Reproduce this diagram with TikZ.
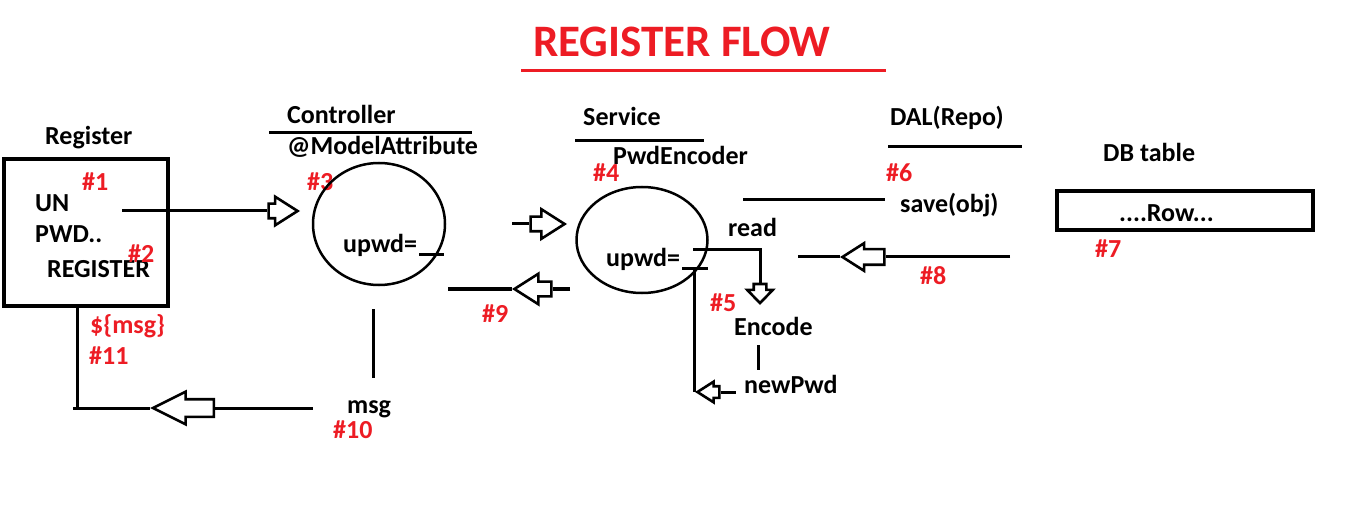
\documentclass[tikz,border=0pt]{standalone}
\usepackage{fontspec}
\setmainfont{Carlito}
\usetikzlibrary{positioning, shapes.geometric, shapes.arrows}
\definecolor{paintRed}{HTML}{ED1C24}

\begin{document}
\begin{tikzpicture}[
    x=1pt, y=-1pt,
    every node/.style={inner sep=0pt, anchor=base west},
    lbl/.style={font=\fontsize{26}{29}\selectfont\bfseries},
    tag/.style={lbl, text=paintRed},
    wire/.style={line width=3pt},
    bubble/.style={ellipse, draw, line width=2.5pt, anchor=center},
    frame/.style={draw, line width=3.2pt, anchor=center},
    hollow/.style={single arrow, draw, fill=white, line width=2.6pt, anchor=tip,
        inner sep=6pt, single arrow head extend=7pt, single arrow tip angle=65,
        minimum height=#1}
]
    \useasboundingbox (0,0) rectangle (1366,513);

    % title
    \node[font=\fontsize{45}{49}\selectfont\bfseries, text=paintRed] (title) at (533,57) {REGISTER FLOW};
    \draw[paintRed, line width=3pt] (521,71) -- (886,71);

    % register page
    \node[lbl] (regHead) at (45,145) {Register};
    \node[frame, minimum width=164, minimum height=147] (regBox) at (86,232.5) {};
    \node[lbl] (un) at (35,212) {UN};
    \node[lbl] (pwd) at (35,243) {PWD..};
    \node[lbl] (regBtn) at (47,277) {REGISTER};
    \node[tag] (t1) at (82,191) {\#1};
    \node[tag] (t2) at (128,262) {\#2};
    \node[tag] (msgEl) at (90,333) {\$\{msg\}};
    \node[tag] (t11) at (89,364) {\#11};

    % controller
    \node[lbl] (ctrlHead) at (287,124) {Controller};
    \node[lbl] (modelAttr) at (287,155) {@ModelAttribute};
    \node[tag] (t3) at (307,191) {\#3};
    \node[bubble, minimum width=132, minimum height=122] (ctrl) at (379,224) {};
    \node[lbl] (ctrlUpwd) at (343,253) {upwd=};
    \node[lbl] (msg) at (347,413) {msg};
    \node[tag] (t10) at (333,438) {\#10};
    \node[tag] (t9) at (482,322) {\#9};

    % service
    \node[lbl] (svcHead) at (583,126) {Service};
    \node[lbl] (encHead) at (613,165) {PwdEncoder};
    \node[tag] (t4) at (593,182) {\#4};
    \node[bubble, minimum width=131, minimum height=106] (svc) at (642,240) {};
    \node[lbl] (svcUpwd) at (606,266) {upwd=};
    \node[lbl] (read) at (728,237) {read};
    \node[tag] (t5) at (710,312) {\#5};
    \node[lbl] (encode) at (734,335) {Encode};
    \node[lbl] (newPwd) at (744,393) {newPwd};

    % repository and table
    \node[lbl] (dalHead) at (890,126) {DAL(Repo)};
    \node[tag] (t6) at (886,182) {\#6};
    \node[lbl] (save) at (900,213) {save(obj)};
    \node[tag] (t8) at (920,284) {\#8};
    \node[lbl] (dbHead) at (1103,162) {DB table};
    \node[frame, minimum width=256, minimum height=39] (dbBox) at (1185,210.5) {};
    \node[lbl] (row) at (1119,222) {....Row...};
    \node[tag] (t7) at (1095,258) {\#7};

    % hollow arrows, placed by their tips
    \node[hollow=29] (a1) at (300,211) {};
    \node[hollow=34, single arrow head extend=7.5pt] (a2) at (567,224) {};
    \node[hollow=37, shape border rotate=180, single arrow head extend=8pt] (a3) at (512,289) {};
    \node[hollow=19, shape border rotate=270, inner sep=5pt, single arrow head extend=6.5pt,
          single arrow tip angle=88] (a4) at (760,305) {};
    \node[hollow=22, shape border rotate=180, inner sep=4.5pt, single arrow head extend=4.5pt] (a5) at (695,392) {};
    \node[hollow=42, shape border rotate=180, inner sep=6.5pt, single arrow head extend=6pt] (a6) at (840,257) {};
    \node[hollow=61, shape border rotate=180, inner sep=7.5pt, single arrow head extend=7.5pt,
          single arrow tip angle=53] (a7) at (150,408) {};

    \coordinate (unOut) at (122,211);
    \coordinate (ctrlOut) at (512,224);
    \coordinate (ctrlIn) at (448,289);
    \coordinate (svcOut) at (570,289);
    \coordinate (readIn) at (693,250);
    \coordinate (readTurn) at (760,250);
    \coordinate (encOut) at (694,269);
    \coordinate (newOut) at (736,392);
    \coordinate (backIn) at (798,257);
    \coordinate (rowOut) at (1010,257);
    \coordinate (boxOut) at (77,306);
    \coordinate (msgCorner) at (77,408);
    \coordinate (msgIn) at (313,408);

    \draw[wire] (unOut) -- (a1.tail);
    \draw[wire] (ctrlOut) -- (a2.tail);
    \draw[wire] (svcOut) -- (a3.tail);
    \draw[wire] (a3.tip) -- (ctrlIn);
    \draw[wire] (readIn) -- (readTurn) -- (a4.tail);
    \draw[wire] (rowOut) -- (a6.tail);
    \draw[wire] (a6.tip) -- (backIn);
    \draw[wire] (boxOut) -- (msgCorner);
    \draw[wire] (73,408) -- (a7.tip);
    \draw[wire] (a7.tail) -- (msgIn);
    \draw[wire] (682,269) -- (708,269);
    \draw[wire] (encOut) -- (encOut |- a5.tip);
    \draw[wire] (a5.tail) -- (newOut);
    \draw[wire] (419,255) -- (444,255);
    \draw[wire] (373,309) -- (373,378);
    \draw[wire] (758,345) -- (758,370);

    % layer lines
    \draw[wire] (269,133) -- (472,133);
    \draw[wire] (575,141) -- (704,141);
    \draw[wire] (888,147) -- (1022,147);
    \draw[wire] (743,200) -- (885,200);
\end{tikzpicture}
\end{document}
